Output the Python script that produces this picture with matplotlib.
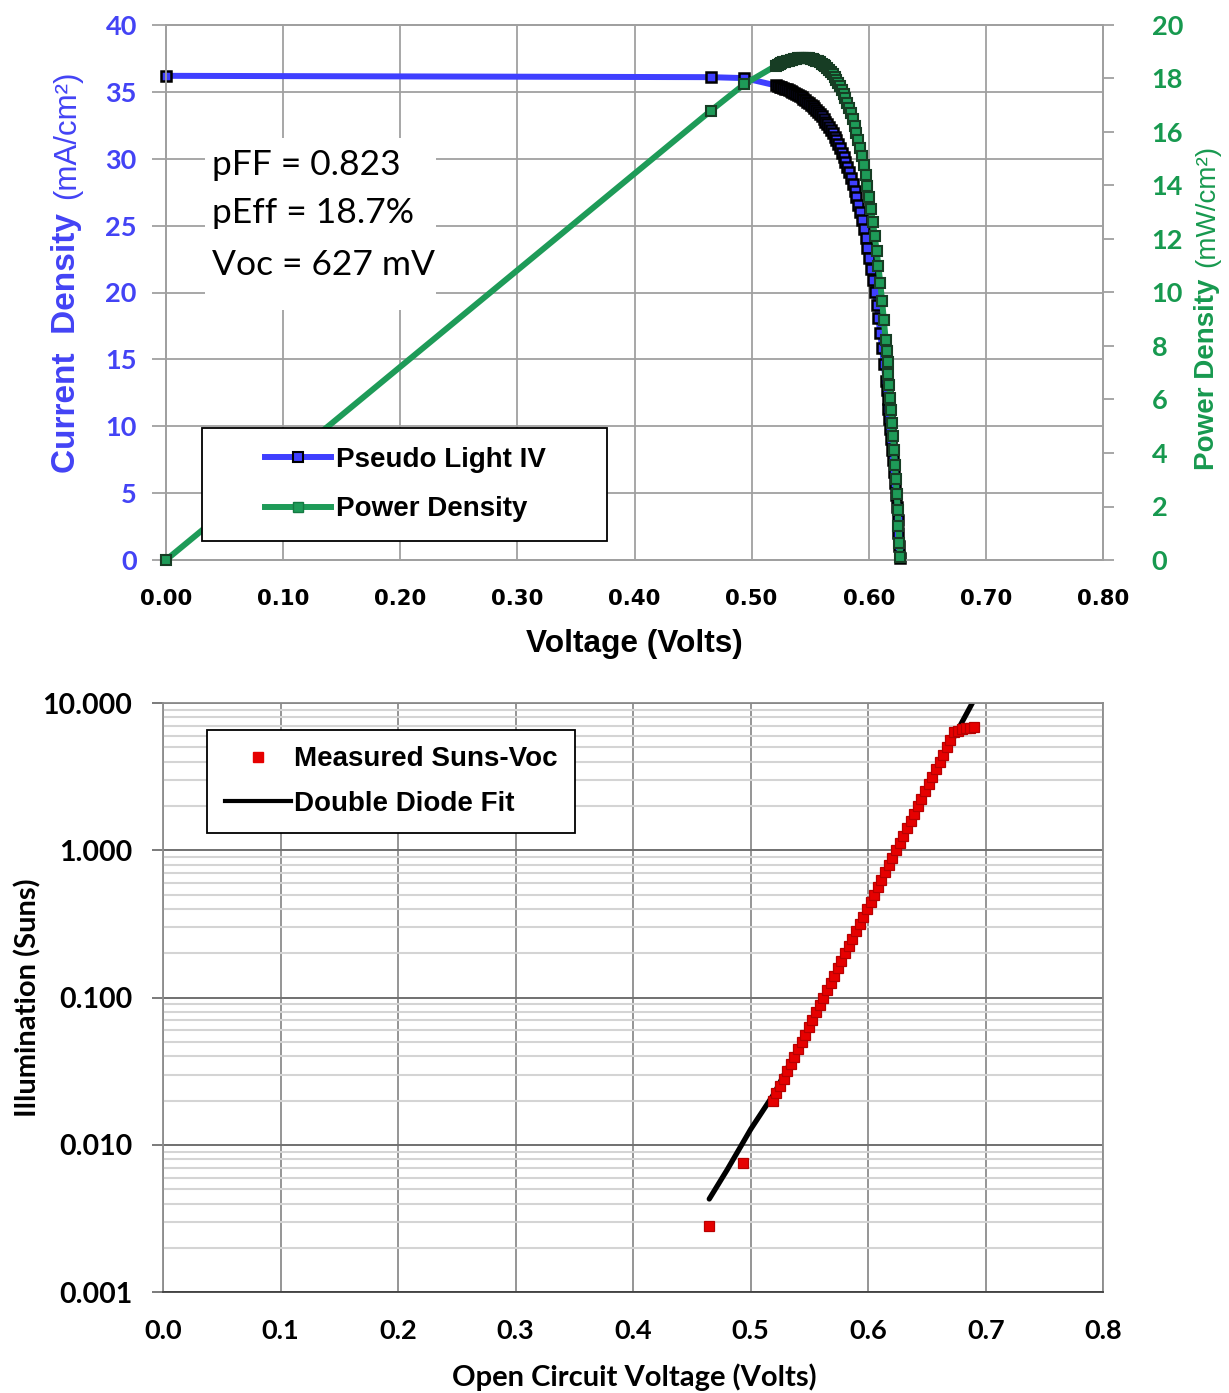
import matplotlib
matplotlib.use('Agg')
import matplotlib.pyplot as plt
from matplotlib.lines import Line2D
from matplotlib.patches import Rectangle
from matplotlib.ticker import FormatStrFormatter, LogLocator, NullFormatter

# ---- pseudo light IV (top chart) ----
top_v = [0.0, 0.4650, 0.4938,
         0.5208, 0.5223, 0.5239, 0.5254, 0.5270, 0.5286, 0.5301, 0.5317, 0.5333, 0.5348,
         0.5364, 0.5379, 0.5395, 0.5411, 0.5426, 0.5442, 0.5458, 0.5473, 0.5489, 0.5504,
         0.5520, 0.5536, 0.5551, 0.5567, 0.5583, 0.5598, 0.5614, 0.5629, 0.5645, 0.5661,
         0.5676, 0.5692, 0.5708, 0.5723, 0.5739, 0.5754, 0.5770, 0.5786, 0.5801, 0.5817,
         0.5833, 0.5848, 0.5864, 0.5879, 0.5895, 0.5911, 0.5926, 0.5942, 0.5958,
         0.5973, 0.5989, 0.6004, 0.6020, 0.6036, 0.6051, 0.6067, 0.6083, 0.6098, 0.6114,
         0.6129, 0.6145, 0.6153, 0.6161, 0.6168, 0.6176, 0.6184, 0.6192, 0.6200, 0.6208,
         0.6215, 0.6223, 0.6231, 0.6239, 0.6247, 0.6254, 0.6262, 0.6269]
top_j = [36.20, 36.10, 36.03,
         35.48, 35.44, 35.39, 35.34, 35.29, 35.24, 35.18, 35.12, 35.06, 34.99,
         34.91, 34.84, 34.76, 34.67, 34.58, 34.49, 34.39, 34.28, 34.17, 34.04,
         33.92, 33.78, 33.64, 33.49, 33.33, 33.16, 32.97, 32.78, 32.58, 32.37,
         32.14, 31.90, 31.64, 31.37, 31.09, 30.78, 30.46, 30.12, 29.76, 29.38,
         28.98, 28.55, 28.09, 27.62, 27.11, 26.57, 26.00, 25.39, 24.75,
         24.07, 23.36, 22.60, 21.79, 20.93, 20.03, 19.07, 18.06, 16.98, 15.84,
         14.64, 13.36, 12.69, 12.01, 11.30, 10.57, 9.82, 9.05, 8.26, 7.45,
         6.60, 5.74, 4.85, 3.93, 2.99, 2.02, 1.03, 0.17]
top_p = [0.00, 16.79, 17.79,
         18.48, 18.51, 18.54, 18.57, 18.60, 18.63, 18.65, 18.67, 18.70, 18.71,
         18.73, 18.74, 18.75, 18.76, 18.76, 18.77, 18.77, 18.76, 18.76, 18.74,
         18.72, 18.70, 18.67, 18.64, 18.61, 18.56, 18.51, 18.45, 18.39, 18.32,
         18.24, 18.16, 18.06, 17.95, 17.84, 17.71, 17.58, 17.43, 17.26, 17.09,
         16.90, 16.70, 16.47, 16.24, 15.98, 15.71, 15.41, 15.09, 14.75,
         14.38, 13.99, 13.57, 13.12, 12.63, 12.12, 11.57, 10.99, 10.35, 9.69,
         8.97, 8.21, 7.81, 7.40, 6.97, 6.53, 6.07, 5.60, 5.12, 4.62,
         4.10, 3.57, 3.02, 2.45, 1.87, 1.26, 0.64, 0.11]
top_xticks = [0.0, 0.1, 0.2, 0.3, 0.4, 0.5, 0.6, 0.7, 0.8]
top_jticks = [0, 5, 10, 15, 20, 25, 30, 35, 40]
top_pticks = [0, 2, 4, 6, 8, 10, 12, 14, 16, 18, 20]
stats_lines = ['pFF = 0.823', 'pEff = 18.7%', 'Voc = 627 mV']

# ---- Suns-Voc (bottom chart) ----
sv_v = [0.4647, 0.4931,
        0.5186, 0.5217, 0.5248, 0.5279, 0.5309, 0.5340, 0.5371, 0.5402, 0.5433, 0.5464,
        0.5495, 0.5525, 0.5556, 0.5587, 0.5618, 0.5649, 0.5680, 0.5711, 0.5741, 0.5772,
        0.5803, 0.5834, 0.5865, 0.5896, 0.5927, 0.5958, 0.5988, 0.6019, 0.6050, 0.6081,
        0.6112, 0.6143, 0.6174, 0.6204, 0.6235, 0.6266, 0.6297, 0.6328, 0.6359, 0.6390,
        0.6420, 0.6451, 0.6482, 0.6513, 0.6544, 0.6575, 0.6606, 0.6637, 0.6667, 0.6698,
        0.6729,
        0.6760, 0.6795, 0.6830, 0.6865, 0.6900]
sv_suns = [0.00283, 0.0075,
           0.0200, 0.0224, 0.0251, 0.0282, 0.0316, 0.0355, 0.0398, 0.0447, 0.0501, 0.0562,
           0.0631, 0.0708, 0.0794, 0.0891, 0.1000, 0.1122, 0.1259, 0.1413, 0.1585, 0.1778,
           0.1995, 0.2239, 0.2512, 0.2818, 0.3162, 0.3548, 0.3981, 0.4467, 0.5012, 0.5623,
           0.6310, 0.7079, 0.7943, 0.8913, 1.000, 1.122, 1.259, 1.413, 1.585, 1.778,
           1.995, 2.239, 2.512, 2.818, 3.162, 3.548, 3.981, 4.467, 5.012, 5.623,
           6.310,
           6.45, 6.62, 6.72, 6.80, 6.88]
fit_v = [0.4647, 0.480, 0.500, 0.520, 0.550, 0.600, 0.650, 0.6885]
fit_suns = [0.0043, 0.0068, 0.0128, 0.0224, 0.0644, 0.416, 2.69, 10.0]
bot_xticks = [0.0, 0.1, 0.2, 0.3, 0.4, 0.5, 0.6, 0.7, 0.8]
bot_yticks = [0.001, 0.01, 0.1, 1.0, 10.0]

BLUE = '#3F3FFF'
BLUE_TXT = '#4343F5'
GREEN = '#1E9B58'
GREEN_TXT = '#17994F'
GRID = '#A0A0A0'
RED = '#E60000'

W, H = 1229, 1393
fig = plt.figure(figsize=(W / 100, H / 100), dpi=100)

# ================= top: pseudo light IV =================
ax = fig.add_axes([166 / W, 1 - 560 / H, 937 / W, 535 / H])
ax2 = ax.twinx()

ax.set_xlim(0, 0.8)
ax.set_ylim(0, 40)
ax2.set_ylim(0, 20)
ax.set_xticks(top_xticks)
ax.xaxis.set_major_formatter(FormatStrFormatter('%.2f'))
ax.set_yticks(top_jticks)
ax2.set_yticks(top_pticks)

ax.set_axisbelow(True)
ax.grid(True, color=GRID, lw=1.3)
for axis in (ax, ax2):
    for s in axis.spines.values():
        s.set_color(GRID)
        s.set_linewidth(1.3)

ax.tick_params(axis='x', length=0, pad=21, labelsize=15.3, labelcolor='black')
ax.tick_params(axis='y', color=GRID, width=1.3, length=10, pad=11,
               labelsize=19.5, labelcolor=BLUE_TXT)
ax2.tick_params(axis='y', color=GRID, width=1.3, length=8, pad=27,
                labelsize=19.5, labelcolor=GREEN_TXT)
plt.setp(ax.get_xticklabels(), family='DejaVu Sans', weight='bold')
plt.setp(ax.get_yticklabels(), family='Lato', weight='bold')
plt.setp(ax2.get_yticklabels(), family='Lato', weight='bold')

ax.plot(top_v, top_j, color=BLUE, lw=4.3, marker='s', ms=7, mfc=BLUE,
        mec='black', mew=1.8, zorder=3, clip_on=False)
ax2.plot(top_v, top_p, color=GREEN, lw=4.3, marker='s', ms=7, mfc=GREEN,
         mec='#173d24', mew=1.5, zorder=3, clip_on=False)

# white box behind the stats text
ax.add_patch(Rectangle((0.0416, 0.4673), 0.2466, 0.3215, transform=ax.transAxes,
                       fc='white', ec='none', zorder=1))
for txt, yb in zip(stats_lines, [0.7187, 0.6299, 0.5327]):
    ax.text(0.0491, yb, txt, transform=ax.transAxes, fontsize=25.5, family='Lato',
            va='baseline', zorder=4)

# legend box
ax2.add_patch(Rectangle((0.0384, 0.0355), 0.4322, 0.2113, transform=ax2.transAxes,
                        fc='white', ec='black', lw=1.3, zorder=8))
top_handles = [
    Line2D([], [], color=BLUE, lw=4.3, marker='s', ms=7, mfc=BLUE, mec='black', mew=1.5),
    Line2D([], [], color=GREEN, lw=4.3, marker='s', ms=7, mfc=GREEN, mec='#147a42', mew=1.0),
]
leg = ax2.legend(top_handles, ['Pseudo Light IV', 'Power Density'], loc='center',
                 bbox_to_anchor=(0.2551, 0.1411), bbox_transform=ax2.transAxes,
                 frameon=False, borderpad=0, handlelength=2.4, handletextpad=0.15,
                 labelspacing=0.85,
                 prop={'family': 'Liberation Sans', 'weight': 'bold', 'size': 20})
leg.set_zorder(9)

ax.set_xlabel('Voltage (Volts)', fontsize=22.8, family='Liberation Sans',
              weight='bold', va='baseline')
ax.xaxis.set_label_coords(634 / W, 1 - 652 / H, transform=fig.transFigure)

fig.text(75 / W, 1 - 473 / H, 'Current  Density', rotation=90, rotation_mode='anchor',
         ha='left', va='baseline', color=BLUE_TXT, fontsize=24,
         family='Liberation Sans', weight='bold')
fig.text(75 / W, 1 - 199 / H, '(mA/cm²)', rotation=90, rotation_mode='anchor',
         ha='left', va='baseline', color=BLUE_TXT, fontsize=22.5,
         family='Liberation Sans')
fig.text(1214 / W, 1 - 470 / H, 'Power Density', rotation=90, rotation_mode='anchor',
         ha='left', va='baseline', color=GREEN_TXT, fontsize=20,
         family='Liberation Sans', weight='bold')
fig.text(1214 / W, 1 - 267 / H, '(mW/cm²)', rotation=90, rotation_mode='anchor',
         ha='left', va='baseline', color=GREEN_TXT, fontsize=20,
         family='Liberation Sans')

# ================= bottom: Suns-Voc =================
bx = fig.add_axes([163 / W, 1 - 1292.3 / H, 940.4 / W, 589.3 / H])
bx.set_yscale('log')
bx.set_xlim(0, 0.8)
bx.set_ylim(0.001, 10)
bx.set_xticks(bot_xticks)
bx.xaxis.set_major_formatter(FormatStrFormatter('%.1f'))
bx.set_yticks(bot_yticks)
bx.yaxis.set_major_formatter(FormatStrFormatter('%.3f'))
bx.yaxis.set_minor_locator(LogLocator(base=10, subs=range(2, 10)))
bx.yaxis.set_minor_formatter(NullFormatter())

bx.set_axisbelow(True)
bx.grid(True, which='minor', axis='y', color='#D4D4D4', lw=1.5)
bx.grid(True, which='major', axis='y', color='#707070', lw=1.4)
bx.grid(True, which='major', axis='x', color='#8C8C8C', lw=1.3)
for name, s in bx.spines.items():
    s.set_color('#8C8C8C')
    s.set_linewidth(1.3)
bx.spines['bottom'].set_color('#404040')

bx.tick_params(axis='x', length=0, pad=19.5, labelsize=19.5)
bx.tick_params(axis='y', which='major', color='#707070', width=1.3, length=8,
               pad=14, labelsize=20.5)
bx.tick_params(axis='y', which='minor', length=0)
plt.setp(bx.get_xticklabels(), family='Lato', weight='bold')
plt.setp(bx.get_yticklabels(), family='Lato', weight='bold')

bx.plot(fit_v, fit_suns, color='black', lw=3.8, solid_capstyle='round', zorder=2)
bx.plot(sv_v, sv_suns, ls='none', marker='s', ms=7.2, mfc=RED, mec='#B80000',
        mew=0.9, zorder=3)

bx.add_patch(Rectangle((0.0468, 0.7794), 0.3913, 0.1748, transform=bx.transAxes,
                       fc='white', ec='black', lw=1.3, zorder=8))
bot_handles = [
    Line2D([], [], ls='none', marker='s', ms=7, mfc=RED, mec=RED),
    Line2D([], [], color='black', lw=3),
]
leg2 = bx.legend(bot_handles, ['Measured Suns-Voc', 'Double Diode Fit'], loc='center',
                 bbox_to_anchor=(0.2425, 0.8668), bbox_transform=bx.transAxes,
                 frameon=False, borderpad=0, handlelength=2.4, handletextpad=0.1,
                 labelspacing=0.65,
                 prop={'family': 'Liberation Sans', 'weight': 'bold', 'size': 20})
leg2.set_zorder(9)

bx.set_xlabel('Open Circuit Voltage (Volts)', fontsize=21, family='Lato',
              weight='bold', va='baseline')
bx.xaxis.set_label_coords(634 / W, 1 - 1386 / H, transform=fig.transFigure)
fig.text(36 / W, 1 - 1117 / H, 'Illumination (Suns)', rotation=90, rotation_mode='anchor',
         ha='left', va='baseline', fontsize=21, family='Lato', weight='bold')

fig.savefig('out.png', dpi=100)
